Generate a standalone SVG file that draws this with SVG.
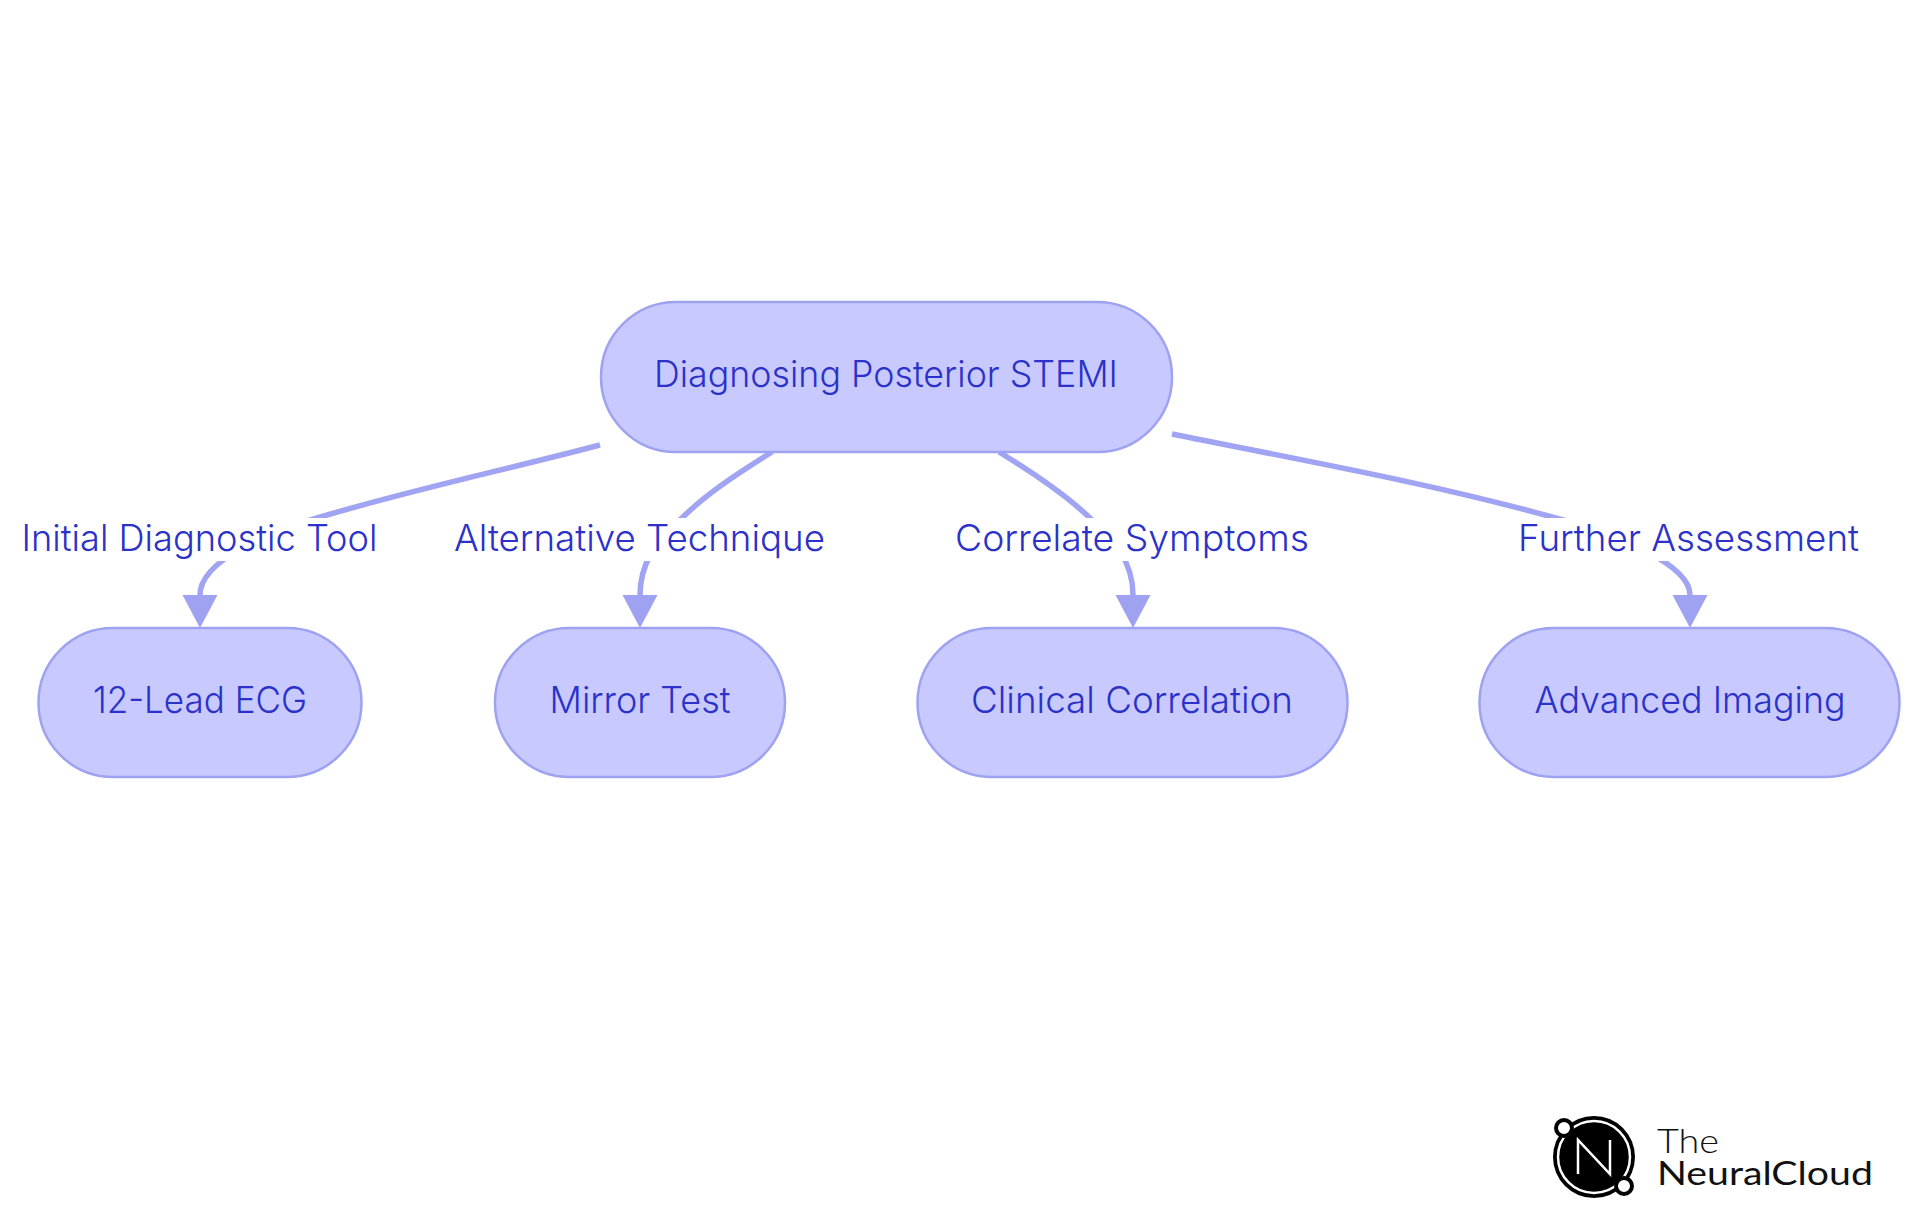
<svg xmlns="http://www.w3.org/2000/svg" width="1920" height="1215" viewBox="0 0 1920 1215">
<style>
.n{fill:#c8caff;stroke:#9ea2f1;stroke-width:2.5}
.t{font-family:Inter,"Liberation Sans",sans-serif;font-size:37px;font-weight:300;fill:#2b31c9;text-anchor:middle}
.e{fill:none;stroke:#a0a4f3;stroke-width:5.5}
.lb{fill:#fff}
.lg{font-family:Lato,"Liberation Sans",sans-serif;fill:#111;font-size:33px}
</style>
<defs><marker id="a" markerUnits="userSpaceOnUse" markerWidth="34" markerHeight="36" refX="0" refY="17.500" orient="auto"><path d="M0,0L33,17.500L0,35z" fill="#9ea2f1"/></marker></defs>
<rect width="1920" height="1215" fill="#fff"/>
<g id="connectors">
<path class="e" marker-end="url(#a)" d="M600,445C505,470 410,490 317,518C270,532 200,560 200,595"/>
<path class="e" marker-end="url(#a)" d="M772,452C735,475 705,495 682,518C660,536 640,560 640,595"/>
<path class="e" marker-end="url(#a)" d="M999,452C1040,477 1068,497 1090,518C1112,538 1133,560 1133,595"/>
<path class="e" marker-end="url(#a)" d="M1172,434C1300,460 1430,483 1552,517C1620,535 1690,565 1690,595"/>
</g>
<g id="edge-labels">
<g id="label1"><rect class="lb" x="19" y="518" width="360" height="43"/><text class="t" x="199.500" y="551" textLength="356" lengthAdjust="spacingAndGlyphs">Initial Diagnostic Tool</text></g>
<g id="label2"><rect class="lb" x="452" y="518" width="375" height="43"/><text class="t" x="639.500" y="551" textLength="371" lengthAdjust="spacingAndGlyphs">Alternative Technique</text></g>
<g id="label3"><rect class="lb" x="953" y="518" width="358" height="43"/><text class="t" x="1132" y="551" textLength="354" lengthAdjust="spacingAndGlyphs">Correlate Symptoms</text></g>
<g id="label4"><rect class="lb" x="1516" y="518" width="345" height="43"/><text class="t" x="1688.500" y="551" textLength="341" lengthAdjust="spacingAndGlyphs">Further Assessment</text></g>
</g>
<g id="root"><rect class="n" x="601" y="302" width="571" height="150" rx="75"/><text class="t" x="886" y="387" textLength="464" lengthAdjust="spacingAndGlyphs">Diagnosing Posterior STEMI</text></g>
<g id="ecg"><rect class="n" x="38.500" y="628" width="323" height="149" rx="74.500"/><text class="t" x="200" y="712.500" textLength="214" lengthAdjust="spacingAndGlyphs">12-Lead ECG</text></g>
<g id="mirror"><rect class="n" x="495" y="628" width="290" height="149" rx="74.500"/><text class="t" x="640" y="712.500" textLength="181" lengthAdjust="spacingAndGlyphs">Mirror Test</text></g>
<g id="clinical"><rect class="n" x="917.500" y="628" width="430" height="149" rx="74.500"/><text class="t" x="1132" y="712.500" textLength="322" lengthAdjust="spacingAndGlyphs">Clinical Correlation</text></g>
<g id="imaging"><rect class="n" x="1479.500" y="628" width="420" height="149" rx="74.500"/><text class="t" x="1690" y="712.500" textLength="311" lengthAdjust="spacingAndGlyphs">Advanced Imaging</text></g>
<g id="logo">
<circle cx="1594" cy="1157" r="41" fill="#000"/>
<circle cx="1594" cy="1157" r="36" fill="none" stroke="#fff" stroke-width="2.500"/>
<circle cx="1564" cy="1128" r="8" fill="#fff" stroke="#000" stroke-width="4"/>
<circle cx="1624" cy="1186" r="8" fill="#fff" stroke="#000" stroke-width="4"/>
<path d="M1578,1174V1140L1610,1174V1140" fill="none" stroke="#fff" stroke-width="2.500"/>
<text class="lg"><tspan x="1657" y="1153" font-weight="300" textLength="62" lengthAdjust="spacingAndGlyphs">The</tspan><tspan x="1657" y="1185" font-weight="400" textLength="216" lengthAdjust="spacingAndGlyphs">NeuralCloud</tspan></text>
</g>
</svg>
